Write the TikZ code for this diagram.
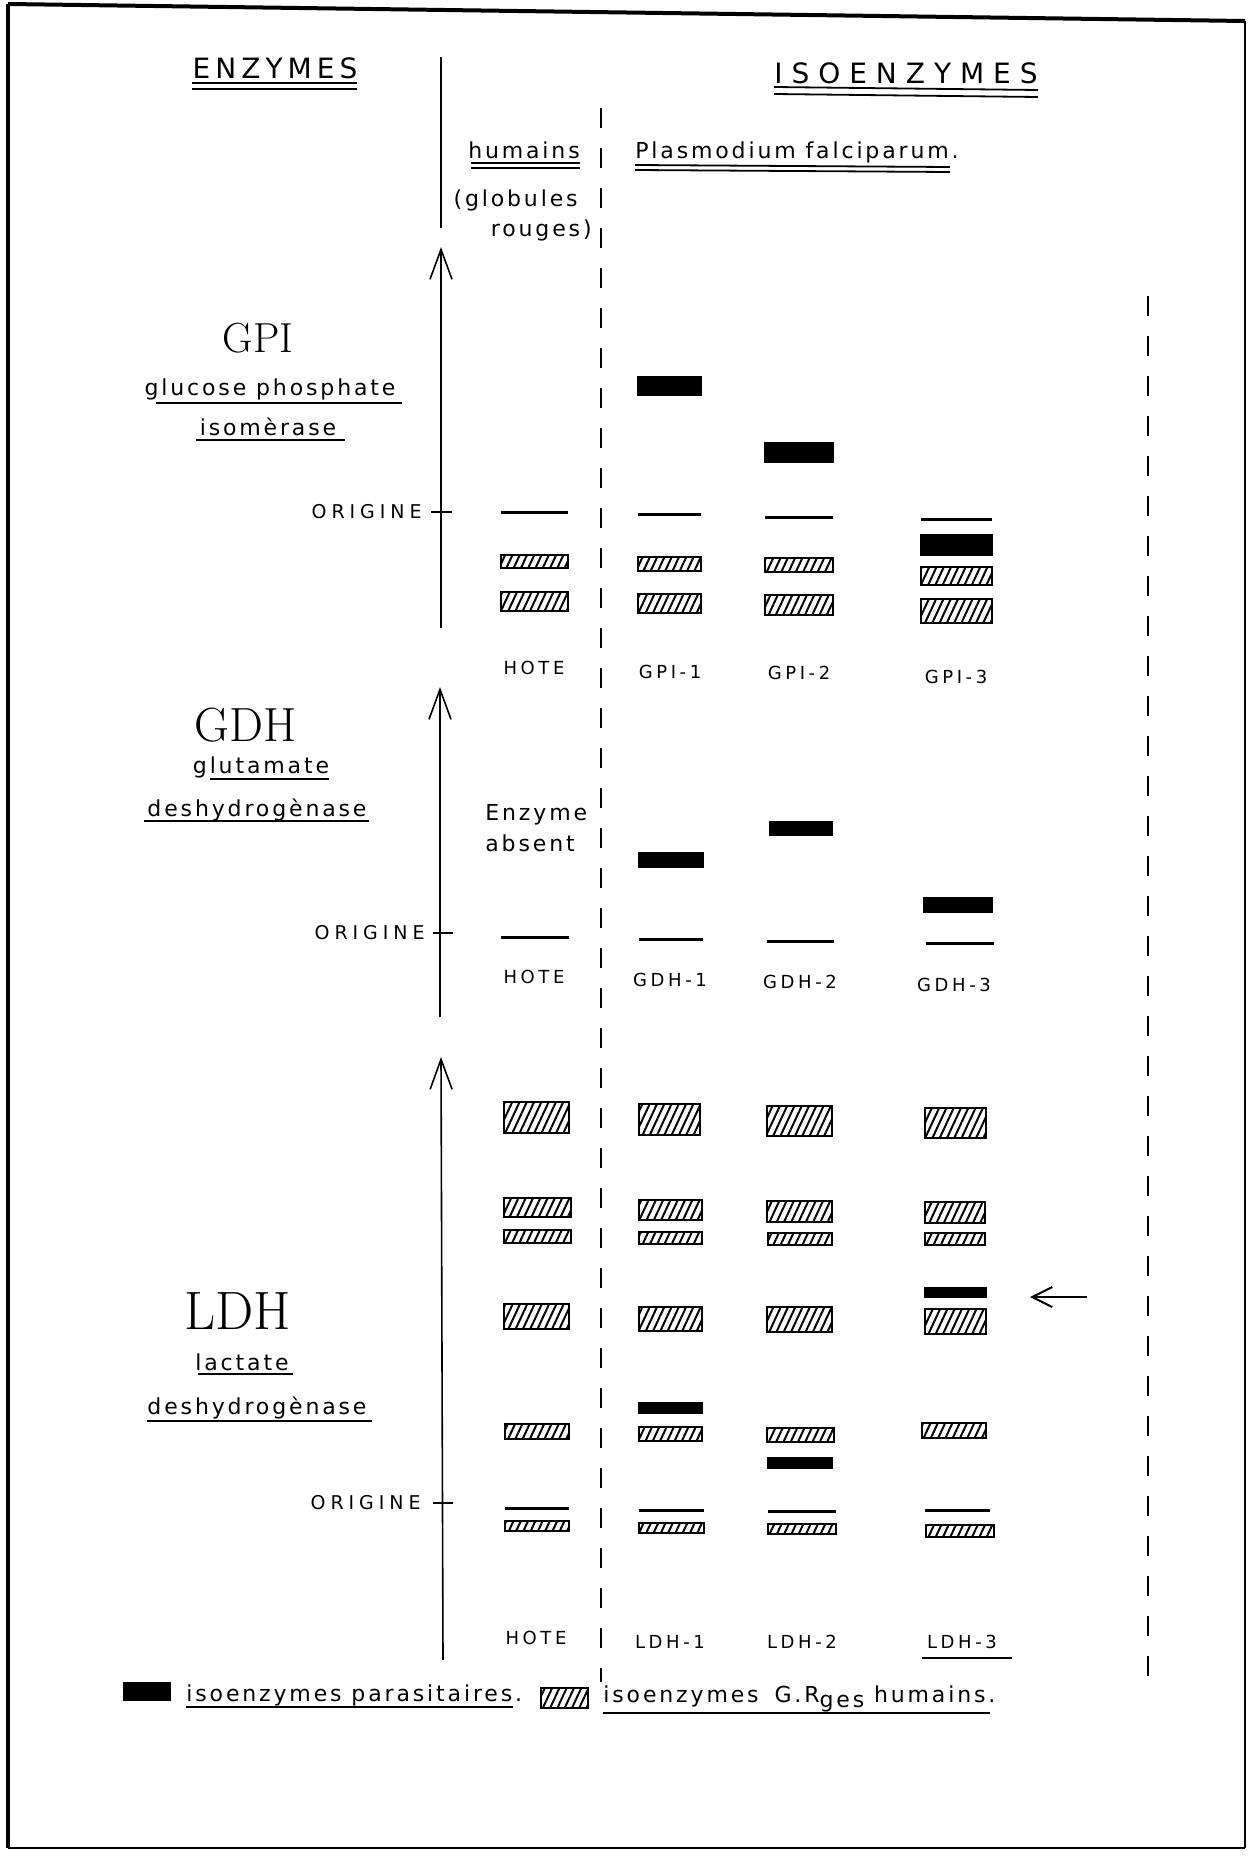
\documentclass[tikz,border=0pt]{standalone}
\usepackage{fontspec}
\usetikzlibrary{arrows.meta,patterns.meta}
\newfontfamily\hand[LetterSpace=13]{DejaVu Sans}

\begin{document}
\begin{tikzpicture}[x=0.5pt,y=-0.5pt,
  lab/.style={font=\hand\fontsize{11}{13}\selectfont, inner sep=0pt},
  col/.style={font=\hand\addfontfeatures{LetterSpace=20}\fontsize{9}{11}\selectfont, inner sep=0pt},
  orgl/.style={font=\hand\addfontfeatures{LetterSpace=26}\fontsize{9.5}{11}\selectfont, inner sep=0pt, anchor=east},
  head/.style={font=\hand\addfontfeatures{LetterSpace=18}\fontsize{14}{16}\selectfont, inner sep=0pt},
  hatch/.style={draw, line width=1.3pt, pattern={Lines[angle=65,distance=3.3pt,line width=1pt]}},
  para/.style={draw, line width=1pt, fill=black},
  orig/.style={line width=1.5pt},
  ul/.style={line width=0.9pt},
  sepline/.style={line width=1.1pt, dash pattern=on 10pt off 10pt},
  axis/.style={line width=0.8pt, -{Straight Barb[length=15pt,width=11pt]}},
  tick/.style={line width=0.8pt}
]
\useasboundingbox (0,0) rectangle (1257,1857);
% frame
\draw[line width=2pt] (8,4) -- (1245,21);
\draw[line width=2pt] (8,4) -- (8,1848);
\draw[line width=1.2pt] (1245,21) -- (1245,1848);
\draw[line width=0.7pt] (8,1848) -- (1245,1848);

% headings
\node[head] (enzymes) at (275,68) {ENZYMES};
\draw[ul] (192,83) -- (357,83);
\draw[ul] (192,89) -- (357,89);
\node[head, font=\hand\addfontfeatures{LetterSpace=32}\fontsize{14}{16}\selectfont] (isoenz) at (906,73) {ISOENZYMES};
\draw[ul] (774,87) -- (1038,90);
\draw[ul] (774,94) -- (1038,97);
\node[lab] (humains) at (524,150) {humains};
\draw[ul] (471,163) -- (580,163);
\draw[ul] (471,168) -- (580,168);
\node[lab] (plasmo) at (797,152) {Plasmodium falciparum.};
\draw[ul] (635,165) -- (950,167);
\draw[ul] (635,170) -- (950,172);
\node[lab, anchor=east] (globules) at (578,200) {(globules};
\node[lab, anchor=east] (rouges) at (592,230) {rouges)};

% separating lines and axes
\draw[sepline] (601,108) -- (601,1682);
\draw[sepline] (1148,296) -- (1148,1683);
\draw[line width=0.8pt] (441,57) -- (441,228);
\coordinate (gpi0) at (441,628);
\coordinate (gpi1) at (441,247);
\coordinate (gdh0) at (440,1017);
\coordinate (gdh1) at (440,687);
\coordinate (ldh0) at (443,1660);
\coordinate (ldh1) at (441,1057);
\draw[axis] (gpi0) -- (gpi1);
\draw[axis] (gdh0) -- (gdh1);
\draw[axis] (ldh0) -- (ldh1);

% GPI
\node[inner sep=0pt, font=\addfontfeatures{LetterSpace=30}\fontsize{21}{24}\selectfont] (gpi) at (258,338) {GPI};
\node[lab] (gpiname1) at (270,389) {glucose phosphate};
\draw[ul] (156,403) -- (402,403);
\node[lab] (gpiname2) at (268,427) {isomèrase};
\draw[ul] (196,440) -- (345,440);
\node[orgl] (origA) at (422,512) {ORIGINE};
\draw[tick] (431,512) -- (452,512);
\draw[orig] (501,512) -- (568,512);
\draw[hatch] (501,555) rectangle (568,568);
\draw[hatch] (501,592) rectangle (568,611);
\draw[para] (638,377) rectangle (701,395);
\draw[orig] (638,514) -- (701,514);
\draw[hatch] (638,557) rectangle (701,571);
\draw[hatch] (638,594) rectangle (701,613);
\draw[para] (765,443) rectangle (833,462);
\draw[orig] (765,517) -- (833,517);
\draw[hatch] (765,558) rectangle (833,572);
\draw[hatch] (765,595) rectangle (833,615);
\draw[orig] (921,519) -- (992,519);
\draw[para] (921,535) rectangle (992,555);
\draw[hatch] (921,567) rectangle (992,585);
\draw[hatch] (921,599) rectangle (992,623);
\node[col] (hoteA) at (534,668) {HOTE};
\node[col] (gpiA) at (670,672) {GPI-1};
\node[col] (gpiB) at (799,673) {GPI-2};
\node[col] (gpiC) at (956,677) {GPI-3};

% GDH
\node[inner sep=0pt, font=\addfontfeatures{LetterSpace=20}\fontsize{24}{28}\selectfont] (gdh) at (246,725) {GDH};
\node[lab] (gdhname1) at (261,767) {glutamate};
\draw[ul] (210,779) -- (329,779);
\node[lab] (gdhname2) at (257,810) {deshydrogènase};
\draw[ul] (144,821) -- (369,821);
\node[lab, anchor=west] (enzyme) at (485,815) {Enzyme};
\node[lab, anchor=west] (absent) at (485,843) {absent};
\node[orgl] (origB) at (425,933) {ORIGINE};
\draw[tick] (433,933) -- (453,933);
\draw[orig] (501,937) -- (569,937);
\draw[para] (639,853) rectangle (703,867);
\draw[orig] (639,939) -- (703,939);
\draw[para] (770,822) rectangle (832,835);
\draw[orig] (767,941) -- (834,941);
\draw[para] (924,898) rectangle (992,912);
\draw[orig] (926,943) -- (994,943);
\node[col] (hoteB) at (534,977) {HOTE};
\node[col] (gdhA) at (670,980) {GDH-1};
\node[col] (gdhB) at (800,982) {GDH-2};
\node[col] (gdhC) at (954,985) {GDH-3};

% LDH
\node[inner sep=0pt, font=\addfontfeatures{LetterSpace=12}\fontsize{27}{30}\selectfont] (ldh) at (238,1311) {LDH};
\node[lab] (ldhname1) at (242,1362) {lactate};
\draw[ul] (198,1374) -- (293,1374);
\node[lab] (ldhname2) at (257,1408) {deshydrogènase};
\draw[ul] (147,1421) -- (372,1421);
\node[orgl] (origC) at (421,1503) {ORIGINE};
\draw[tick] (433,1503) -- (453,1503);
% host
\draw[hatch] (504,1102) rectangle (569,1133);
\draw[hatch] (504,1198) rectangle (571,1217);
\draw[hatch] (504,1230) rectangle (571,1243);
\draw[hatch] (504,1304) rectangle (569,1329);
\draw[hatch] (505,1424) rectangle (569,1439);
\draw[orig] (505,1508) -- (569,1508);
\draw[hatch] (505,1521) rectangle (569,1531);
% LDH-1
\draw[hatch] (639,1104) rectangle (700,1135);
\draw[hatch] (639,1200) rectangle (702,1220);
\draw[hatch] (639,1232) rectangle (702,1244);
\draw[hatch] (639,1307) rectangle (702,1331);
\draw[para] (639,1403) rectangle (702,1413);
\draw[hatch] (639,1427) rectangle (702,1441);
\draw[orig] (639,1510) -- (704,1510);
\draw[hatch] (639,1523) rectangle (704,1533);
% LDH-2
\draw[hatch] (767,1106) rectangle (832,1136);
\draw[hatch] (767,1201) rectangle (832,1222);
\draw[hatch] (768,1233) rectangle (832,1245);
\draw[hatch] (767,1307) rectangle (832,1332);
\draw[hatch] (767,1428) rectangle (834,1442);
\draw[para] (768,1458) rectangle (832,1468);
\draw[orig] (768,1511) -- (836,1511);
\draw[hatch] (768,1524) rectangle (836,1534);
% LDH-3
\draw[hatch] (925,1108) rectangle (986,1138);
\draw[hatch] (925,1202) rectangle (985,1223);
\draw[hatch] (925,1233) rectangle (985,1245);
\draw[para] (925,1288) rectangle (986,1297);
\draw[hatch] (925,1309) rectangle (986,1334);
\draw[hatch] (922,1423) rectangle (986,1438);
\draw[orig] (925,1510) -- (990,1510);
\draw[hatch] (926,1525) rectangle (994,1537);
\coordinate (mark0) at (1087,1297);
\coordinate (mark1) at (1030,1297);
\draw[line width=1pt, -{Straight Barb[length=10pt,width=10pt]}] (mark0) -- (mark1);
\node[col] (hoteC) at (536,1638) {HOTE};
\node[col] (ldhA) at (670,1642) {LDH-1};
\node[col] (ldhB) at (802,1642) {LDH-2};
\node[col] (ldhC) at (962,1642) {LDH-3};
\draw[ul] (922,1658) -- (1012,1658);

% legend
\draw[para] (124,1683) rectangle (170,1700);
\node[lab, anchor=west] (legpara) at (186,1695) {isoenzymes parasitaires.};
\draw[ul] (186,1707) -- (513,1707);
\draw[hatch] (541,1688) rectangle (588,1708);
\node[lab, anchor=west] (leghum) at (603,1699) {isoenzymes\hspace{3pt} G.R\raisebox{-2.5pt}{ges} humains.};
\draw[ul] (603,1713) -- (990,1713);
\end{tikzpicture}
\end{document}
